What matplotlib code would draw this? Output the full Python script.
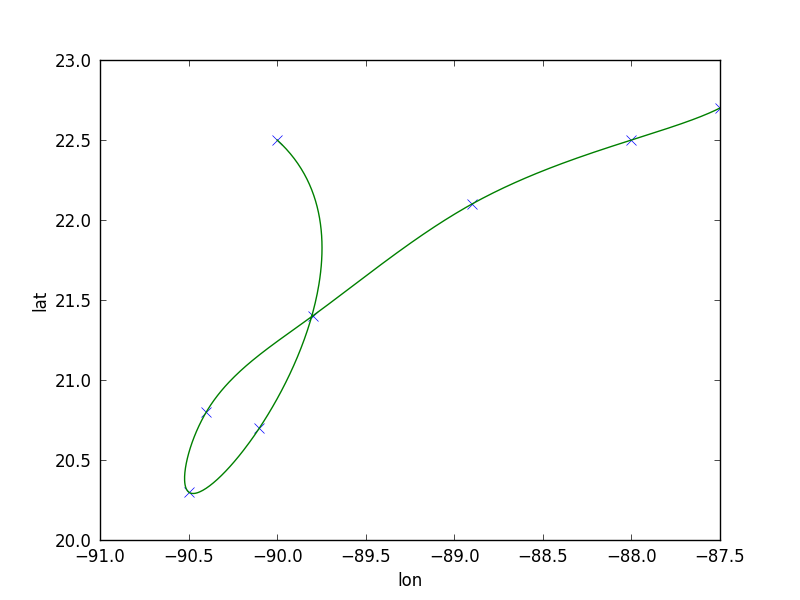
import numpy as np
import matplotlib
matplotlib.use("Agg")
import matplotlib.pyplot as plt

lon = [-90.0, -90.1, -90.5, -90.4, -89.8, -88.9, -88.0, -87.5]
lat = [22.5, 20.7, 20.3, 20.8, 21.4, 22.1, 22.5, 22.7]


def notaknot_spline(t, y, tt):
    t = np.asarray(t, float); y = np.asarray(y, float)
    n = len(t)
    h = np.diff(t)
    A = np.zeros((n, n)); b = np.zeros(n)
    A[0, 0] = h[1]; A[0, 1] = -(h[0] + h[1]); A[0, 2] = h[0]
    for i in range(1, n - 1):
        A[i, i - 1] = h[i - 1]
        A[i, i] = 2 * (h[i - 1] + h[i])
        A[i, i + 1] = h[i]
        b[i] = 6 * ((y[i + 1] - y[i]) / h[i] - (y[i] - y[i - 1]) / h[i - 1])
    A[-1, -3] = h[-1]; A[-1, -2] = -(h[-2] + h[-1]); A[-1, -1] = h[-2]
    M = np.linalg.solve(A, b)
    idx = np.clip(np.searchsorted(t, tt) - 1, 0, n - 2)
    t0 = t[idx]; t1 = t[idx + 1]; hh = h[idx]
    a = (t1 - tt) / hh; c = (tt - t0) / hh
    return (a * y[idx] + c * y[idx + 1]
            + ((a ** 3 - a) * M[idx] + (c ** 3 - c) * M[idx + 1]) * hh ** 2 / 6)


x = np.array(lon); y = np.array(lat)
d = np.sqrt(np.diff(x) ** 2 + np.diff(y) ** 2)
u = np.concatenate([[0], np.cumsum(np.sqrt(d))]); u /= u[-1]
uu = np.linspace(0, 1, 500)
xs = notaknot_spline(u, x, uu)
ys = notaknot_spline(u, y, uu)

plt.rcParams['font.family'] = 'DejaVu Sans'
plt.rcParams['font.size'] = 12
fig = plt.figure(figsize=(8, 6), dpi=100)
ax = fig.add_axes([0.125, 0.1, 0.775, 0.8])
ax.plot(x, y, 'x', color='b', markersize=7, markeredgewidth=0.5)
ax.plot(xs, ys, '-', color=(0, 0.5, 0), linewidth=1.0)
ax.set_xlim(-91.0, -87.5)
ax.set_ylim(20.0, 23.0)
ax.set_xticks(np.arange(-91.0, -87.49, 0.5))
ax.set_yticks(np.arange(20.0, 23.01, 0.5))
fmt = matplotlib.ticker.FuncFormatter(lambda v, p: ('%.1f' % v).replace('-', '\u2212'))
ax.xaxis.set_major_formatter(fmt)
ax.yaxis.set_major_formatter(fmt)
ax.tick_params(direction='in', length=4, width=0.5, top=True, right=True, labelsize=12, pad=6)
for s in ax.spines.values():
    s.set_linewidth(1.0)
ax.set_xlabel('lon', fontsize=12)
ax.set_ylabel('lat', fontsize=12)
fig.savefig('out.png', dpi=100)
